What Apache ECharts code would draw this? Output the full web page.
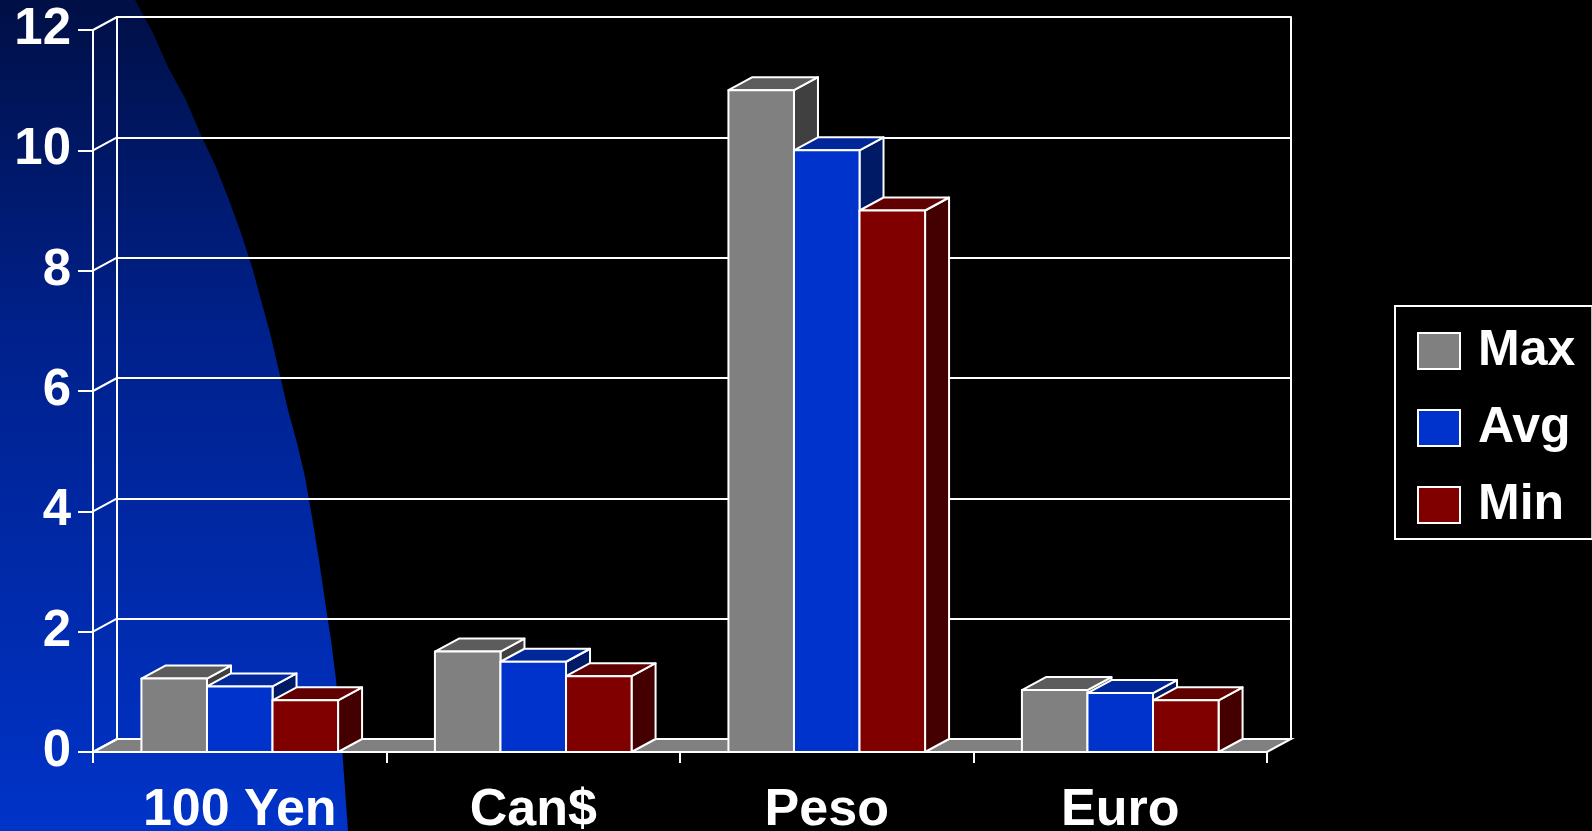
<!DOCTYPE html>
<html>
<head>
<meta charset="utf-8">
<script src="https://cdn.jsdelivr.net/npm/echarts@6/dist/echarts.min.js"></script>
<style>
html,body{margin:0;padding:0;background:#000;}
#chart{width:1592px;height:831px;}
</style>
</head>
<body>
<div id="chart"></div>
<script>
// ---- data ----
const categories = ['100 Yen', 'Can$', 'Peso', 'Euro'];
const seriesNames = ['Max', 'Avg', 'Min'];
const maxValues = [1.22, 1.67, 11.0, 1.03];
const avgValues = [1.09, 1.50, 10.0, 0.98];
const minValues = [0.86, 1.26, 9.0, 0.86];
const yTickValues = [0, 2, 4, 6, 8, 10, 12];

// ---- styling ----
const FONT = "'Liberation Sans', Arial, sans-serif";
const DX = 24, DY = -13;          // depth offset of the 3D look
const GROUP_FRACTION = 0.67;      // share of a category used by the bar group
const faceColors = [
  { front: '#808080', top: '#5c5c5c', side: '#404040' },
  { front: '#0033cc', top: '#00289a', side: '#001a66' },
  { front: '#800000', top: '#600000', side: '#440000' }
];
const seriesData = [maxValues, avgValues, minValues];

const chart = echarts.init(document.getElementById('chart'), null, { renderer: 'canvas' });

function barRenderer(sIdx) {
  const c = faceColors[sIdx];
  return function (params, api) {
    const ci = api.value(0), v = api.value(1);
    const base = api.coord([ci, 0]);
    const top = api.coord([ci, v]);
    const bw = api.size([1, 0])[0];
    const gw = bw * GROUP_FRACTION;
    const w = gw / 3;
    const x0 = base[0] - gw / 2 + sIdx * w;
    const x1 = x0 + w;
    const yT = top[1], yB = base[1];
    const stroke = { stroke: '#fff', lineWidth: 2, lineJoin: 'round' };
    return {
      type: 'group',
      children: [
        { type: 'polygon', shape: { points: [[x1, yT], [x1 + DX, yT + DY], [x1 + DX, yB + DY], [x1, yB]] },
          style: Object.assign({ fill: c.side }, stroke) },
        { type: 'polygon', shape: { points: [[x0, yT], [x1, yT], [x1 + DX, yT + DY], [x0 + DX, yT + DY]] },
          style: Object.assign({ fill: c.top }, stroke) },
        { type: 'rect', shape: { x: x0, y: yT, width: w, height: yB - yT },
          style: Object.assign({ fill: c.front }, stroke) }
      ]
    };
  };
}

function frameRenderer(params, api) {
  const v = api.value(0);
  const bw = api.size([1, 0])[0];
  const p = api.coord([0, v]);
  const xL = p[0] - bw / 2;
  const children = [];
  if (params.dataIndex === 0) {
    const last = api.coord([categories.length - 1, 0]);
    const xR = last[0] + bw / 2;
    children.push({
      type: 'polygon',
      shape: { points: [[xL, p[1]], [xR, p[1]], [xR + DX, p[1] + DY], [xL + DX, p[1] + DY]] },
      style: { fill: '#808080', stroke: '#fff', lineWidth: 2 }
    });
  }
  children.push({
    type: 'line',
    shape: { x1: xL, y1: p[1], x2: xL + DX, y2: p[1] + DY },
    style: { stroke: '#fff', lineWidth: 2 }
  });
  return { type: 'group', children: children };
}

// background decoration (blue swoosh on the left)
const swooshPoints = [[0,0],[135,0],[153,33],[168,67],[186,100],[200,133],[216,167],[229,200],[241,233],
  [252,267],[261,300],[270,333],[278,367],[288,410],[297,443],[305,477],[312,517],[319,560],[326,608],
  [331,640],[336,680],[342,747],[348,831],[0,831]];

const option = {
  backgroundColor: '#000',
  animation: false,
  graphic: [{
    type: 'polygon',
    z: -10,
    silent: true,
    shape: { points: swooshPoints },
    style: {
      fill: new echarts.graphic.LinearGradient(0, 0, 0, 1, [
        { offset: 0, color: '#000f45' },
        { offset: 0.4, color: '#00218c' },
        { offset: 1, color: '#0033c8' }
      ])
    }
  }],
  legend: {
    data: seriesNames,
    orient: 'vertical',
    left: 1395,
    top: 306,
    padding: [20, 17, 9, 22],
    itemWidth: 42,
    itemHeight: 36,
    itemGap: 27,
    icon: 'rect',
    backgroundColor: '#000',
    borderColor: '#fff',
    borderWidth: 2,
    itemStyle: { borderColor: '#fff', borderWidth: 2 },
    textStyle: { color: '#fff', fontSize: 50, fontWeight: 'bold', fontFamily: FONT, padding: [0, 0, 0, 13] }
  },
  grid: [
    { left: 93, right: 325, top: 30, bottom: 79, containLabel: false, outerBoundsMode: 'none' },
    { left: 93 + DX, right: 325 - DX, top: 30 + DY, bottom: 79 - DY, containLabel: false, outerBoundsMode: 'none' }
  ],
  xAxis: [
    {
      type: 'category', gridIndex: 0, data: categories, boundaryGap: true,
      axisLine: { show: true, lineStyle: { color: '#fff', width: 2 } },
      axisTick: { show: true, length: 11, lineStyle: { color: '#fff', width: 2 } },
      axisLabel: { color: '#fff', fontSize: 52, fontWeight: 'bold', fontFamily: FONT, margin: 33, verticalAlign: 'top' },
      splitLine: { show: false }
    },
    { type: 'category', gridIndex: 1, data: categories, show: false }
  ],
  yAxis: [
    {
      type: 'value', gridIndex: 0, min: 0, max: 12, interval: 2,
      axisLine: { show: true, lineStyle: { color: '#fff', width: 2 } },
      axisTick: { show: true, length: 15, lineStyle: { color: '#fff', width: 2 } },
      axisLabel: { color: '#fff', fontSize: 51, fontWeight: 'bold', fontFamily: FONT, margin: 22 },
      splitLine: { show: false }
    },
    {
      type: 'value', gridIndex: 1, min: 0, max: 12, interval: 2,
      axisLine: { show: true, lineStyle: { color: '#fff', width: 2 } },
      axisTick: { show: false }, axisLabel: { show: false },
      splitLine: { show: true, lineStyle: { color: '#fff', width: 2 } }
    },
    {
      type: 'value', gridIndex: 1, min: 0, max: 12, interval: 2, position: 'right',
      axisLine: { show: true, onZero: false, lineStyle: { color: '#fff', width: 2 } },
      axisTick: { show: false }, axisLabel: { show: false }, splitLine: { show: false }
    }
  ],
  series: [
    {
      type: 'custom', name: 'frame', xAxisIndex: 0, yAxisIndex: 0, z: 1, silent: true,
      renderItem: frameRenderer,
      data: yTickValues.map(v => [v])
    }
  ].concat(seriesNames.map((name, i) => ({
    type: 'custom', name: name, xAxisIndex: 0, yAxisIndex: 0, z: 2 + i,
    itemStyle: { color: faceColors[i].front, borderColor: '#fff', borderWidth: 2 },
    renderItem: barRenderer(i),
    data: seriesData[i].map((v, ci) => [ci, v])
  })))
};
chart.setOption(option);
</script>
</body>
</html>
